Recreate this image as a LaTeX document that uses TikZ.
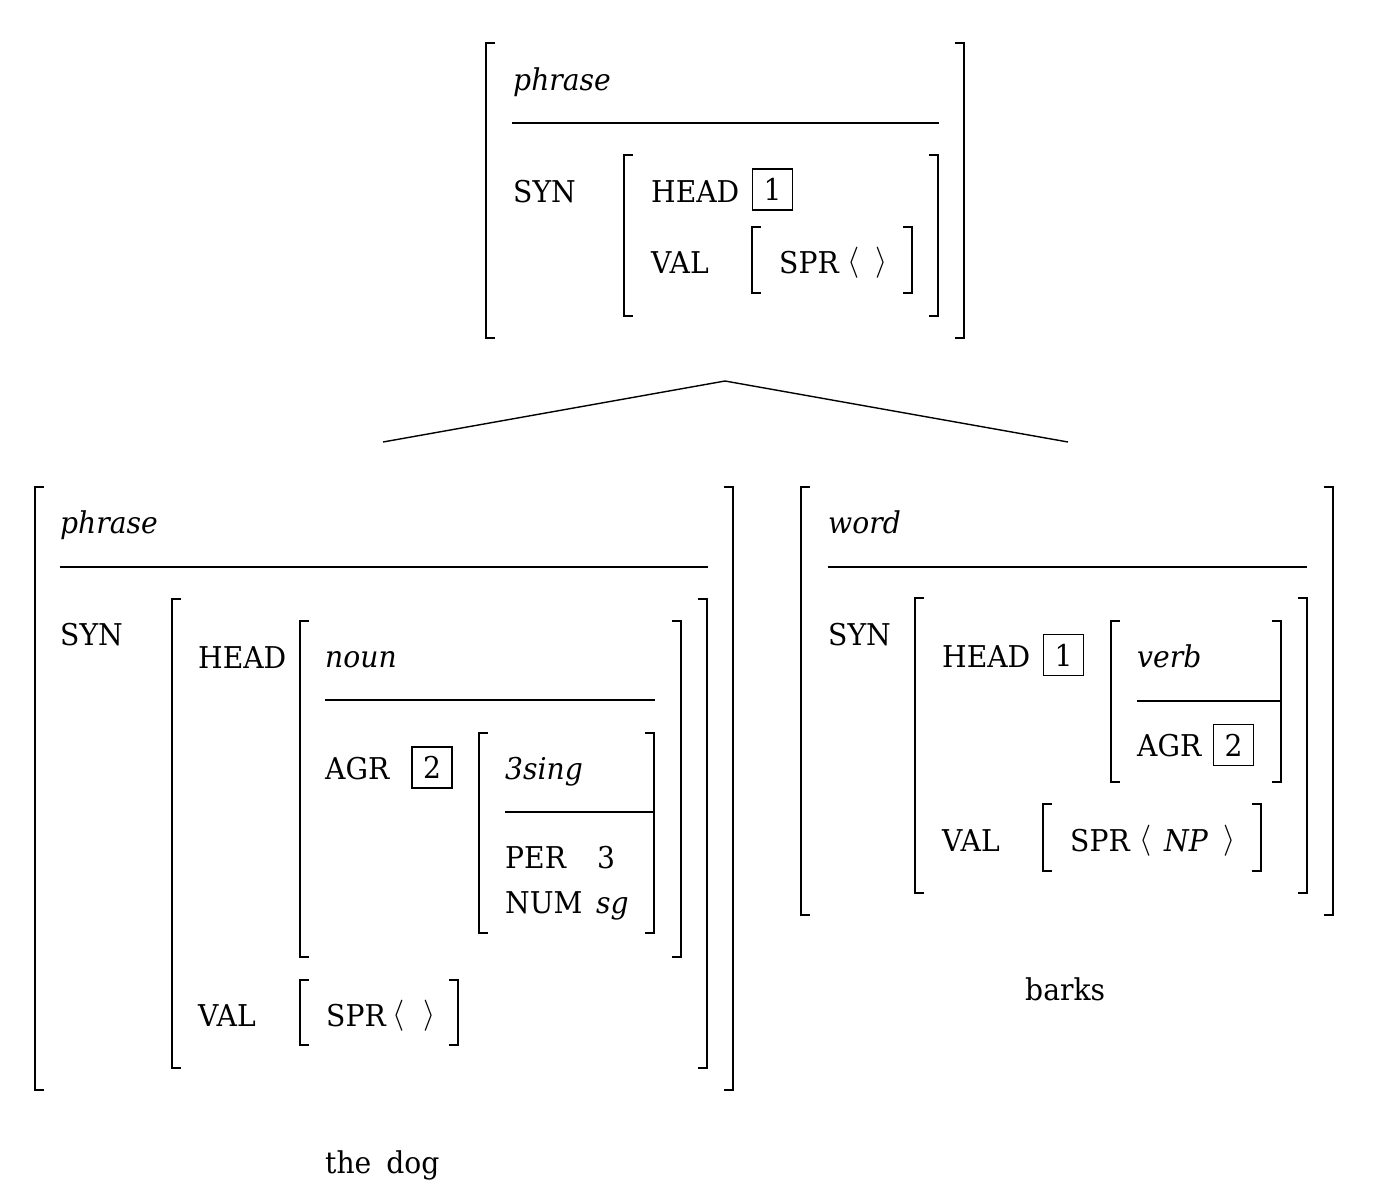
\documentclass[tikz,border=0pt]{standalone}
\usepackage{fontspec}
\setmainfont[FakeStretch=0.94]{DejaVu Serif}
\usetikzlibrary{positioning}

\newcommand{\avmsize}{\fontsize{30}{36}\selectfont}
% bracket pair: left x, right x, top y, bottom y
\newcommand{\avmbr}[4]{%
  \draw[brk] (#1+9,#3) -- (#1,#3) -- (#1,#4) -- (#1+9,#4);
  \draw[brk] (#2-9,#3) -- (#2,#3) -- (#2,#4) -- (#2-9,#4);}

\begin{document}
\begin{tikzpicture}[
  x=1pt, y=-1pt,
  lab/.style={anchor=base west, inner sep=0pt, font=\avmsize},
  typ/.style={anchor=base west, inner sep=0pt, font=\avmsize\itshape},
  ang/.style={anchor=base west, inner sep=0pt, font=\avmsize},
  tag/.style={draw, line width=1.4pt, inner sep=0pt, font=\avmsize,
              minimum width=40pt, minimum height=41pt},
  brk/.style={line width=1.6pt},
  rule/.style={line width=1.6pt},
  edge/.style={line width=1.4pt}
]
\useasboundingbox (0,0) rectangle (1384,1202);

% ---------- Mother: phrase ----------
\avmbr{486}{964}{43}{338}
\node[typ] (mType) at (513,90) {phrase};
\draw[rule] (512,123) -- (939,123);
\node[lab] (mSyn) at (513,202) {SYN};
\avmbr{624}{938}{155}{316}
\node[lab] (mHead) at (651,202) {HEAD};
\node[tag] (mTag) at (772.5,189.5) {1};
\node[lab] (mVal) at (651,273) {VAL};
\avmbr{752}{912}{227}{293}
\node[lab] (mSpr) at (779,273) {SPR};
\node[ang] (mLa) at (847,270) {\scalebox{1.25}{$\langle$}};
\node[ang] (mRa) at (875,270) {\scalebox{1.25}{$\rangle$}};

% ---------- Tree branches ----------
\coordinate (apex) at (725,381);
\coordinate (dtrL) at (383,442);
\coordinate (dtrR) at (1068,442);
\draw[edge] (dtrL) -- (apex) -- (dtrR);

% ---------- Left daughter: phrase ----------
\avmbr{35}{733}{487}{1090}
\node[typ] (lType) at (60,533) {phrase};
\draw[rule] (60,567) -- (708,567);
\node[lab] (lSyn) at (60,645) {SYN};
\avmbr{172}{707}{599}{1068}
\node[lab] (lHead) at (198,668) {HEAD};
\avmbr{300}{681}{621}{957}
\node[typ] (lNoun) at (325,667) {noun};
\draw[rule] (325,700) -- (655,700);
\node[lab] (lAgr) at (325,779) {AGR};
\node[tag] (lTag) at (432,767.5) {2};
\avmbr{479}{654}{733}{933}
\node[typ] (lSing) at (505,779) {3sing};
\draw[rule] (505,812) -- (654,812);
\node[lab] (lPer) at (505,868) {PER};
\node[lab] (lPerV) at (597,868) {3};
\node[lab] (lNum) at (505,913) {NUM};
\node[typ] (lNumV) at (596,913) {sg};
\node[lab] (lVal) at (198,1026) {VAL};
\avmbr{300}{458}{980}{1045}
\node[lab] (lSpr) at (326,1026) {SPR};
\node[ang] (lLa) at (392,1023) {\scalebox{1.25}{$\langle$}};
\node[ang] (lRa) at (423,1023) {\scalebox{1.25}{$\rangle$}};
\node[lab] (lWords) at (325,1173) {the\enspace dog};

% ---------- Right daughter: word ----------
\avmbr{801}{1333}{487}{915}
\node[typ] (rType) at (828,533) {word};
\draw[rule] (828,567) -- (1307,567);
\node[lab] (rSyn) at (828,645) {SYN};
\avmbr{915}{1307}{598}{893}
\node[lab] (rHead) at (942,667) {HEAD};
\node[tag] (rTag) at (1063.5,655) {1};
\avmbr{1111}{1281}{621}{782}
\node[typ] (rVerb) at (1137,667) {verb};
\draw[rule] (1137,701) -- (1281,701);
\node[lab] (rAgr) at (1137,756) {AGR};
\node[tag] (rTagB) at (1233.5,745) {2};
\node[lab] (rVal) at (942,851) {VAL};
\avmbr{1043}{1261}{804}{871}
\node[lab] (rSpr) at (1070,851) {SPR};
\node[ang] (rLa) at (1139,848) {\scalebox{1.25}{$\langle$}};
\node[typ] (rNp) at (1164,851) {NP};
\node[ang] (rRa) at (1223,848) {\scalebox{1.25}{$\rangle$}};
\node[lab] (rWord) at (1025,1000) {barks};
\end{tikzpicture}
\end{document}
